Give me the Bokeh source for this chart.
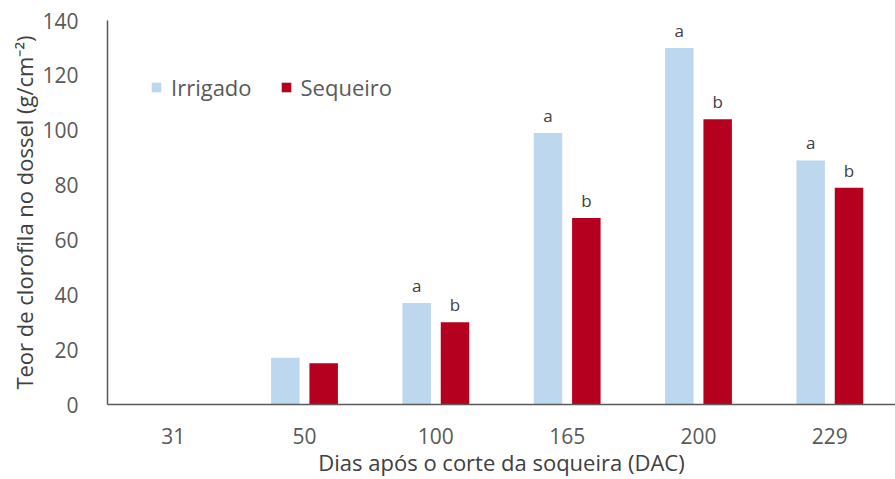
from bokeh.plotting import figure
from bokeh.models import ColumnDataSource, Range1d, Legend, LegendItem
from bokeh.core.properties import value
from bokeh.transform import dodge
from bokeh.embed import file_html
from bokeh.resources import INLINE

categorias = ["31", "50", "100", "165", "200", "229"]
irrigado = [0, 17, 37, 99, 130, 89]
sequeiro = [0, 15, 30, 68, 104, 79]
letras_irrigado = ["", "", "a", "a", "a", "a"]
letras_sequeiro = ["", "", "b", "b", "b", "b"]

FONT = "Open Sans"
GREY = "#595959"
BLUE = "#BDD7EE"
RED = "#B5001F"

src = ColumnDataSource(dict(cat=categorias, irr=irrigado, seq=sequeiro,
                            la=letras_irrigado, lb=letras_sequeiro))

p = figure(x_range=categorias, y_range=Range1d(0, 140), width=895, height=479,
           output_backend="svg", toolbar_location=None,
           min_border_left=107, min_border_right=0, min_border_top=20,
           min_border_bottom=75, outline_line_color=None)

r1 = p.vbar(x=dodge("cat", -0.146, range=p.x_range), top="irr", width=0.217,
            source=src, fill_color=BLUE, line_color=None)
r2 = p.vbar(x=dodge("cat", 0.146, range=p.x_range), top="seq", width=0.217,
            source=src, fill_color=RED, line_color=None)

p.text(x=dodge("cat", -0.146, range=p.x_range), y="irr", text="la", source=src,
       text_align="center", text_baseline="bottom", y_offset=-6,
       text_font_size="17px", text_color="#404040", text_font=value(FONT))
p.text(x=dodge("cat", 0.146, range=p.x_range), y="seq", text="lb", source=src,
       text_align="center", text_baseline="bottom", y_offset=-6,
       text_font_size="17px", text_color="#404040", text_font=value(FONT))

legend = Legend(items=[LegendItem(label="Irrigado", renderers=[r1]),
                       LegendItem(label="Sequeiro", renderers=[r2])],
                orientation="horizontal", location=(43, 302),
                glyph_width=12, glyph_height=12, spacing=28, label_standoff=9,
                label_text_font=FONT, label_text_font_size="22px",
                label_text_color=GREY, border_line_color=None,
                background_fill_alpha=0)
p.add_layout(legend, "center")

p.xgrid.grid_line_color = None
p.ygrid.grid_line_color = None

for ax in (p.xaxis, p.yaxis):
    ax.major_tick_line_color = None
    ax.minor_tick_line_color = None
    ax.axis_line_color = "#595959"
    ax.axis_line_width = 1.5
    ax.major_label_text_font = FONT
    ax.major_label_text_font_size = "21px"
    ax.major_label_text_color = GREY
    ax.axis_label_text_font = FONT
    ax.axis_label_text_font_size = "22px"
    ax.axis_label_text_color = "#404040"
    ax.axis_label_text_font_style = "normal"

p.yaxis.ticker = [0, 20, 40, 60, 80, 100, 120, 140]
p.yaxis.major_label_standoff = 23
p.xaxis.major_label_standoff = 17
p.xaxis.axis_label = "Dias após o corte da soqueira (DAC)"
p.yaxis.axis_label = "Teor de clorofila no dossel (g/cm⁻²)"
p.xaxis.axis_label_standoff = 0
p.yaxis.axis_label_standoff = 0

open("out.html", "w").write(file_html(p, INLINE))
